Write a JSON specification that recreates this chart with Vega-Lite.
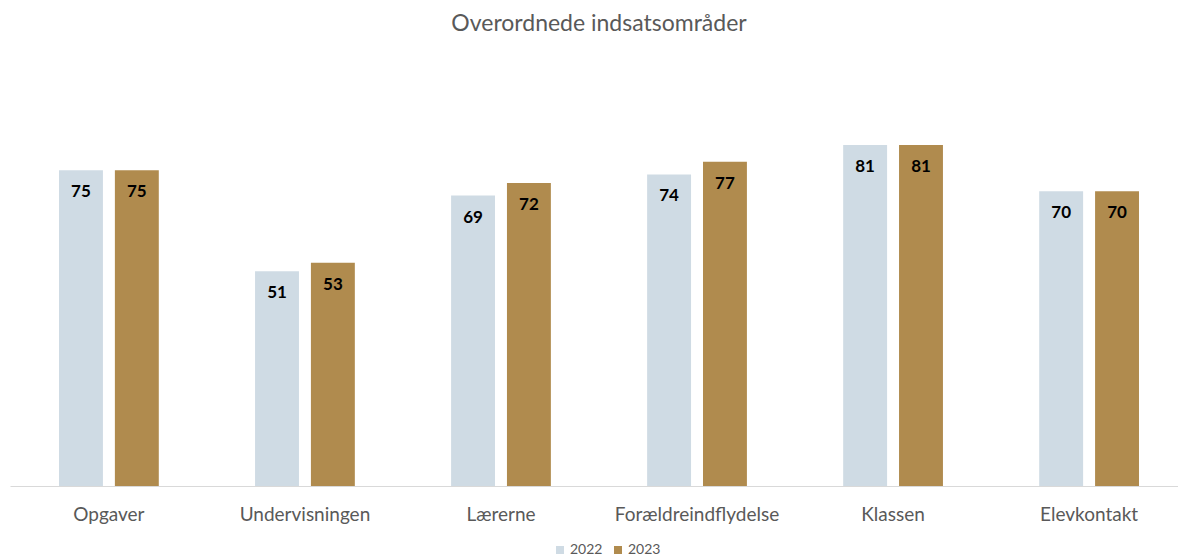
{
  "$schema": "https://vega.github.io/schema/vega-lite/v6.json",
  "autosize": "none",
  "width": 1178,
  "height": 421,
  "padding": {"left": 10, "top": 65, "right": 0, "bottom": 72},
  "background": "white",
  "title": {
    "text": "Overordnede indsatsområder",
    "font": "Lato",
    "fontSize": 23,
    "fontWeight": "normal",
    "color": "#595959",
    "anchor": "middle",
    "offset": 29
  },
  "data": {
    "values": [
      {"kategori": "Opgaver", "aar": "2022", "vaerdi": 75},
      {"kategori": "Opgaver", "aar": "2023", "vaerdi": 75},
      {"kategori": "Undervisningen", "aar": "2022", "vaerdi": 51},
      {"kategori": "Undervisningen", "aar": "2023", "vaerdi": 53},
      {"kategori": "Lærerne", "aar": "2022", "vaerdi": 69},
      {"kategori": "Lærerne", "aar": "2023", "vaerdi": 72},
      {"kategori": "Forældreindflydelse", "aar": "2022", "vaerdi": 74},
      {"kategori": "Forældreindflydelse", "aar": "2023", "vaerdi": 77},
      {"kategori": "Klassen", "aar": "2022", "vaerdi": 81},
      {"kategori": "Klassen", "aar": "2023", "vaerdi": 81},
      {"kategori": "Elevkontakt", "aar": "2022", "vaerdi": 70},
      {"kategori": "Elevkontakt", "aar": "2023", "vaerdi": 70}
    ]
  },
  "encoding": {
    "x": {
      "field": "kategori",
      "type": "nominal",
      "sort": null,
      "scale": {"paddingInner": 0.491, "paddingOuter": 0.25},
      "axis": {
        "title": null,
        "labelAngle": 0,
        "ticks": false,
        "labelFont": "Lato",
        "labelFontSize": 19,
        "labelColor": "#595959",
        "labelPadding": 19,
        "domainColor": "#d9d9d9",
        "domainWidth": 1
      }
    },
    "xOffset": {
      "field": "aar",
      "type": "nominal",
      "scale": {"paddingInner": 0.214, "paddingOuter": 0}
    },
    "y": {
      "field": "vaerdi",
      "type": "quantitative",
      "scale": {"domain": [0, 100]},
      "axis": null
    }
  },
  "layer": [
    {
      "mark": {"type": "bar"},
      "encoding": {
        "color": {
          "field": "aar",
          "type": "nominal",
          "scale": {"domain": ["2022", "2023"], "range": ["#cfdbe4", "#b08b4e"]},
          "legend": {
            "title": null,
            "orient": "none",
            "legendX": 543,
            "legendY": 478,
            "direction": "horizontal",
            "symbolType": "square",
            "symbolSize": 64,
            "symbolStrokeWidth": 0,
            "labelFont": "Lato",
            "labelFontSize": 14,
            "labelColor": "#595959",
            "columnPadding": 8,
            "labelOffset": 3
          }
        }
      }
    },
    {
      "mark": {
        "type": "text",
        "baseline": "middle",
        "dy": 22,
        "font": "Lato",
        "fontSize": 17,
        "fontWeight": "bold",
        "color": "black"
      },
      "encoding": {
        "text": {"field": "vaerdi", "type": "quantitative"}
      }
    }
  ],
  "config": {"view": {"stroke": null}}
}
